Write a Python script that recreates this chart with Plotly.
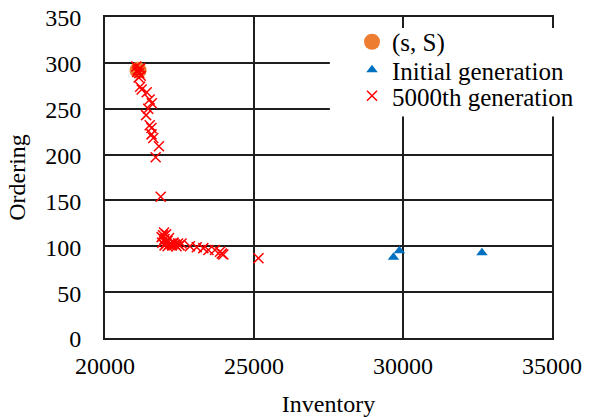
import plotly.graph_objects as go

# (s, S) policy
ss_inventory = [21110]
ss_ordering = [292]

# Initial generation
init_inventory = [29680, 29880, 32650]
init_ordering = [88, 95, 93]

# 5000th generation
gen_inventory = [
    21050, 21100, 21150, 21200, 21080, 21180, 21130,
    21180, 21230, 21400, 21500, 21570, 21450, 21380, 21500, 21560, 21560, 21620, 21810, 21700, 21870,
    21900, 21950, 22000, 21920, 22050, 22100, 22150, 22000, 22200, 22250, 22300, 22350, 22100,
    21980, 22050, 22150, 22400, 22450, 22500,
    22570, 22850, 23080, 23300, 23470, 23690, 23860, 23920, 23970, 25150,
]
gen_ordering = [
    296, 292, 289, 286, 290, 294, 284,
    274, 271, 268, 260, 256, 250, 243, 232, 229, 222, 218, 209, 197, 154,
    110, 112, 108, 104, 104, 106, 102, 101, 103, 101, 104, 102, 100,
    115, 113, 109, 100, 103, 101,
    103, 100, 99, 98, 96, 96, 94, 92, 91, 87,
]

x_ticks = [20000, 25000, 30000, 35000]
y_ticks = [0, 50, 100, 150, 200, 250, 300, 350]

FONT = "Liberation Serif, Times New Roman, serif"
FS = 24

fig = go.Figure()
fig.add_trace(go.Scatter(
    x=ss_inventory, y=ss_ordering, mode="markers", name="(s, S)",
    legend="legend2", showlegend=True,
    marker=dict(symbol="circle", size=17, color="#ED7D31"),
))
fig.add_trace(go.Scatter(
    x=init_inventory, y=init_ordering, mode="markers", name="Initial generation",
    legend="legend3", showlegend=True,
    marker=dict(symbol="triangle-up", size=10, color="#0070C0"),
))
fig.add_trace(go.Scatter(
    x=gen_inventory, y=gen_ordering, mode="markers", name="5000th generation",
    legend="legend4", showlegend=True,
    marker=dict(symbol="x-thin", size=10, color="#FF0000",
                line=dict(color="#FF0000", width=1.5)),
))

axis_common = dict(
    showgrid=True, gridcolor="#1e1e1e", gridwidth=2,
    showline=True, linecolor="#1e1e1e", linewidth=2, mirror=True,
    zeroline=False, ticks="", ticklabeloverflow="allow", automargin=False,
    tickfont=dict(family=FONT, size=FS, color="black"),
)

legend_common = dict(x=0.5526, xanchor="left", yanchor="top",
                     bgcolor="rgba(255,255,255,0)", borderwidth=0,
                     font=dict(family=FONT, size=25))

fig.update_layout(
    width=593, height=417,
    margin=dict(l=105, r=41, t=17, b=79, autoexpand=False),
    paper_bgcolor="white", plot_bgcolor="white",
    font=dict(family=FONT, size=FS, color="black"),
    xaxis=dict(range=[20000, 35000], tickmode="array", tickvals=x_ticks,
               ticktext=[str(v) for v in x_ticks],
               title=dict(text="Inventory", font=dict(family=FONT, size=FS), standoff=20),
               ticklabelstandoff=5, **axis_common),
    yaxis=dict(range=[0, 350.001], tickmode="array", tickvals=y_ticks,
               ticktext=[str(v) for v in y_ticks],
               title=dict(text="Ordering", font=dict(family=FONT, size=FS), standoff=13),
               ticklabelstandoff=17, ticklabelshift=1, **axis_common),
    legend2=dict(y=0.9938, **legend_common),
    legend3=dict(y=0.9065, **legend_common),
    legend4=dict(y=0.8255, **legend_common),
    shapes=[dict(type="rect", xref="paper", yref="paper",
                 x0=0.503, x1=1.012, y0=0.69, y1=0.966,
                 fillcolor="white", line=dict(width=0), layer="above")],
)

# remove the page's default body margin so the figure sits at the window origin
fig.write_html("out.html", config={"displayModeBar": False},
               post_script="document.body.style.margin='0';")
